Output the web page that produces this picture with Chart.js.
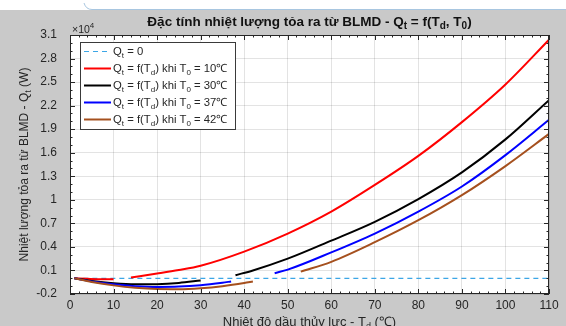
<!DOCTYPE html>
<html>
<head>
<meta charset="utf-8">
<script src="https://cdn.jsdelivr.net/npm/chart.js@4.4.1/dist/chart.umd.min.js"></script>
<style>
html, body { margin: 0; padding: 0; background: #fff; }
#khung { position: relative; width: 566px; height: 326px; overflow: hidden; }
</style>
</head>
<body>
<div id="khung"><canvas id="bieuDo" width="566" height="326"></canvas></div>
<script>
// tick labels
let nhanTrucX = [0, 10, 20, 30, 40, 50, 60, 70, 80, 90, 100, 110];
let nhanTrucY = [-0.2, 0.1, 0.4, 0.7, 1, 1.3, 1.6, 1.9, 2.2, 2.5, 2.8, 3.1];

// Qt = 0
let tMoc0 = [1, 110];
let qMoc0 = [0, 0];

// T0 = 10 do C (x10^4 W)
let t10Thap = [1, 4, 7, 10];
let q10Thap = [0, -0.006, -0.011, -0.012];
let t10Cao = [14, 20, 25, 30, 40, 50, 60, 70, 80, 90, 100, 110];
let q10Cao = [0.01, 0.06, 0.105, 0.16, 0.34, 0.57, 0.85, 1.19, 1.56, 1.99, 2.47, 3.04];

// T0 = 30
let t30Thap = [1, 5, 10, 15, 20, 25, 30];
let q30Thap = [0, -0.034, -0.063, -0.077, -0.075, -0.059, -0.027];
let t30Cao = [38, 42, 50, 60, 70, 80, 90, 100, 110];
let q30Cao = [0.04, 0.1, 0.25, 0.48, 0.72, 1.01, 1.35, 1.77, 2.27];

// T0 = 37
let t37Thap = [1, 5, 10, 15, 20, 25, 30, 35, 37];
let q37Thap = [0, -0.04, -0.077, -0.1, -0.11, -0.106, -0.088, -0.056, -0.04];
let t37Cao = [47, 50, 60, 70, 80, 90, 100, 110];
let q37Cao = [0.065, 0.11, 0.33, 0.57, 0.85, 1.17, 1.57, 2.02];

// T0 = 42
let t42Thap = [1, 5, 10, 15, 20, 25, 30, 35, 40, 42];
let q42Thap = [0, -0.046, -0.09, -0.121, -0.137, -0.139, -0.127, -0.101, -0.061, -0.041];
let t42Cao = [53, 60, 70, 80, 90, 100, 110];
let q42Cao = [0.085, 0.21, 0.46, 0.74, 1.06, 1.43, 1.84];

let mauChu = "#262626";
let phongChu = "'Liberation Sans', Arial, Helvetica, sans-serif";

let thanhDiem = (t, q) => t.map((v, i) => ({ x: v, y: q[i] }));

// two pieces of the same curve with a break between them
let ghepDoan = (tA, qA, tB, qB) => {
    let hole = (tA[tA.length - 1] + tB[0]) / 2;
    return thanhDiem(tA, qA).concat([{ x: hole, y: null }], thanhDiem(tB, qB));
};

let chuGiai = [
    { mau: "#3ca6e6", net: [5, 4], chu: [["Q", 0], ["t", 1], [" = 0", 0]] },
    { mau: "#ff0000", net: [], chu: [["Q", 0], ["t", 1], [" = f(T", 0], ["d", 1], [") khi T", 0], ["0", 1], [" = 10\u2103", 0]] },
    { mau: "#000000", net: [], chu: [["Q", 0], ["t", 1], [" = f(T", 0], ["d", 1], [") khi T", 0], ["0", 1], [" = 30\u2103", 0]] },
    { mau: "#0000ff", net: [], chu: [["Q", 0], ["t", 1], [" = f(T", 0], ["d", 1], [") khi T", 0], ["0", 1], [" = 37\u2103", 0]] },
    { mau: "#a5501e", net: [], chu: [["Q", 0], ["t", 1], [" = f(T", 0], ["d", 1], [") khi T", 0], ["0", 1], [" = 42\u2103", 0]] }
];

// text with subscripts (1) and superscripts (2)
function veChu(ctx, phan, x, y, co, canh, dam) {
    let nho = Math.round(co * 0.72);
    let fontOf = k => (dam ? "bold " : "") + (k ? nho : co) + "px " + phongChu;
    let rong = 0;
    phan.forEach(p => { ctx.font = fontOf(p[1]); rong += ctx.measureText(p[0]).width; });
    let xx = canh == "center" ? x - rong / 2 : x;
    ctx.textAlign = "left";
    ctx.textBaseline = "alphabetic";
    phan.forEach(p => {
        ctx.font = fontOf(p[1]);
        let dy = p[1] == 1 ? 3 : (p[1] == 2 ? -5 : 0);
        ctx.fillText(p[0], xx, y + dy);
        xx += ctx.measureText(p[0]).width;
    });
}

let nenHinh = {
    id: "nenHinh",
    beforeDraw(chart) {
        let ctx = chart.ctx;
        let a = chart.chartArea;
        ctx.save();
        ctx.fillStyle = "#c9c9c9";
        ctx.fillRect(0, 0, chart.width, chart.height);
        ctx.fillStyle = "#ffffff";
        ctx.fillRect(0, 0, chart.width, 10);
        ctx.strokeStyle = "#a8c6e0";
        ctx.lineWidth = 1;
        ctx.beginPath();
        ctx.moveTo(84, 3);
        ctx.quadraticCurveTo(86, 9.5, 92, 9.5);
        ctx.lineTo(chart.width, 9.5);
        ctx.stroke();
        ctx.fillStyle = "#ffffff";
        ctx.fillRect(a.left, a.top, a.right - a.left, a.bottom - a.top);
        ctx.restore();
    },
    afterDraw(chart) {
        let ctx = chart.ctx;
        let a = chart.chartArea;
        let sx = chart.scales.x;
        let sy = chart.scales.y;
        ctx.save();
        ctx.strokeStyle = mauChu;
        ctx.fillStyle = mauChu;
        ctx.lineWidth = 1;

        // tick marks on all four sides
        ctx.beginPath();
        for (let v = 0; v <= 110; v += 2) {
            let px = Math.round(sx.getPixelForValue(v)) + 0.5;
            let dai = v % 10 == 0 ? 5 : 2.5;
            ctx.moveTo(px, a.bottom); ctx.lineTo(px, a.bottom - dai);
            ctx.moveTo(px, a.top); ctx.lineTo(px, a.top + dai);
        }
        for (let i = 0; i <= 33; i++) {
            let v = -0.2 + i * 0.1;
            let py = Math.round(sy.getPixelForValue(v)) + 0.5;
            let dai = i % 3 == 0 ? 5 : 2.5;
            ctx.moveTo(a.left, py); ctx.lineTo(a.left + dai, py);
            ctx.moveTo(a.right, py); ctx.lineTo(a.right - dai, py);
        }
        ctx.stroke();
        ctx.strokeRect(Math.round(a.left) + 0.5, Math.round(a.top) + 0.5, Math.round(a.right - a.left) - 1, Math.round(a.bottom - a.top) - 1);

        // legend inside the axes
        let lx = 80.5, ly = 42.5, lw = 155, lh = 87;
        ctx.fillStyle = "#ffffff";
        ctx.fillRect(lx, ly, lw, lh);
        ctx.strokeStyle = "#3a3a3a";
        ctx.strokeRect(lx, ly, lw, lh);
        chuGiai.forEach((muc, i) => {
            let yy = 51 + i * 17;
            ctx.strokeStyle = muc.mau;
            ctx.lineWidth = muc.net.length ? 1.2 : 2;
            ctx.setLineDash(muc.net);
            ctx.beginPath();
            ctx.moveTo(84, yy + 0.5);
            ctx.lineTo(111, yy + 0.5);
            ctx.stroke();
            ctx.setLineDash([]);
            ctx.fillStyle = mauChu;
            veChu(ctx, muc.chu, 113, yy + 4, 11.3, "left", false);
        });

        // titles
        ctx.fillStyle = "#111111";
        veChu(ctx, [["\u0110\u1eb7c t\u00ednh nhi\u1ec7t l\u01b0\u1ee3ng t\u1ecfa ra t\u1eeb BLMD - Q", 0], ["t", 1], [" = f(T", 0], ["d", 1], [", T", 0], ["0", 1], [")", 0]],
            (a.left + a.right) / 2, 26, 13.5, "center", true);
        ctx.fillStyle = mauChu;
        veChu(ctx, [["Nhi\u1ec7t \u0111\u1ed9 d\u1ea7u th\u1ee7y l\u1ef1c - T", 0], ["d", 1], [" (\u2103)", 0]],
            (a.left + a.right) / 2, 326, 13, "center", false);
        ctx.save();
        ctx.translate(28, (a.top + a.bottom) / 2);
        ctx.rotate(-Math.PI / 2);
        veChu(ctx, [["Nhi\u1ec7t l\u01b0\u1ee3ng t\u1ecfa ra t\u1eeb BLMD - Q", 0], ["t", 1], [" (W)", 0]], 0, 0, 12, "center", false);
        ctx.restore();
        veChu(ctx, [["\u00d710", 0], ["4", 2]], 72, 33, 10.5, "left", false);
        ctx.restore();
    }
};

let tapDuLieu = [
    { data: thanhDiem(tMoc0, qMoc0), borderColor: "#3ca6e6", borderWidth: 1.2, borderDash: [5, 4], order: 9 },
    { data: ghepDoan(t10Thap, q10Thap, t10Cao, q10Cao), borderColor: "#ff0000", borderWidth: 2, order: 4 },
    { data: ghepDoan(t30Thap, q30Thap, t30Cao, q30Cao), borderColor: "#000000", borderWidth: 2, order: 3 },
    { data: ghepDoan(t37Thap, q37Thap, t37Cao, q37Cao), borderColor: "#0000ff", borderWidth: 2, order: 2 },
    { data: ghepDoan(t42Thap, q42Thap, t42Cao, q42Cao), borderColor: "#a5501e", borderWidth: 2, order: 1 }
];
tapDuLieu.forEach(d => {
    d.pointRadius = 0;
    d.fill = false;
    d.spanGaps = false;
    d.cubicInterpolationMode = "monotone";
});

const config = {
    type: "line",
    data: { datasets: tapDuLieu },
    options: {
        responsive: false,
        animation: false,
        devicePixelRatio: 1,
        layout: { padding: { top: 35, right: 17, left: 0, bottom: 0 } },
        plugins: { legend: { display: false }, tooltip: { enabled: false }, title: { display: false } },
        scales: {
            x: {
                type: "linear", min: 0, max: 110,
                afterBuildTicks: s => { s.ticks = nhanTrucX.map(v => ({ value: v })); },
                afterFit: s => { s.height = 32; },
                ticks: { color: mauChu, font: { family: phongChu, size: 12 }, padding: 4, maxRotation: 0, autoSkip: false },
                grid: { color: "rgba(38,38,38,0.13)", drawTicks: false },
                border: { display: false }
            },
            y: {
                type: "linear", min: -0.2, max: 3.1,
                afterBuildTicks: s => { s.ticks = nhanTrucY.map(v => ({ value: v })); },
                afterFit: s => { s.width = 70; },
                ticks: { color: mauChu, font: { family: phongChu, size: 12 }, padding: 13, autoSkip: false,
                    callback: v => String(Number(v.toFixed(1))) },
                grid: { color: "rgba(38,38,38,0.13)", drawTicks: false },
                border: { display: false }
            }
        }
    },
    plugins: [nenHinh]
};

const bieuDo = new Chart(document.getElementById("bieuDo"), config);
</script>
</body>
</html>
